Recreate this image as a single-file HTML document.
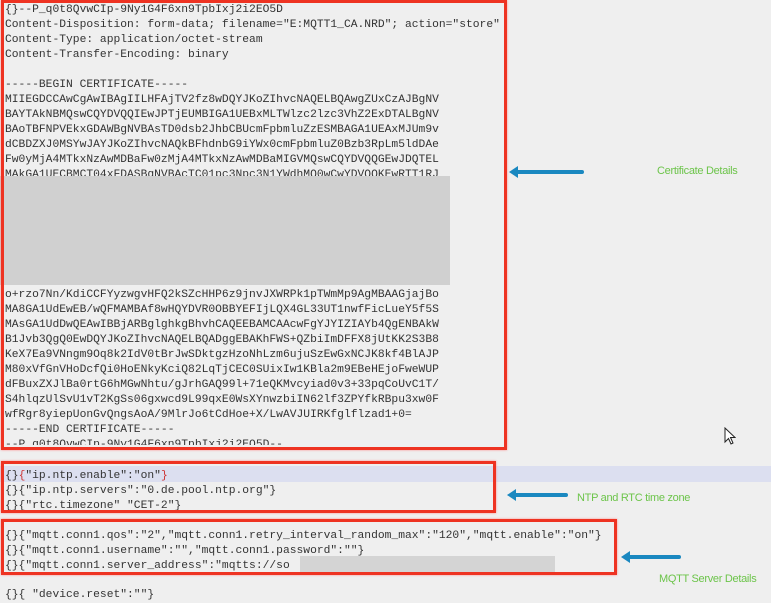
<!DOCTYPE html>
<html><head><style>
html,body{margin:0;padding:0;}
body{width:771px;height:602px;background:#efefef;position:relative;overflow:hidden;font-family:"Liberation Mono",monospace;}
.t{position:absolute;left:5px;font-size:11.3px;line-height:15px;color:#333;white-space:pre;}
.box{position:absolute;border:3px solid #ee3322;box-sizing:border-box;box-shadow:0 0 2px #f88;}
.lbl{position:absolute;font-family:"Liberation Sans",sans-serif;font-size:11px;color:#6cc44a;white-space:nowrap;letter-spacing:-0.3px;}
.arr{position:absolute;height:4px;background:#1a88c0;border-radius:2px;}
.arr:before{content:"";position:absolute;left:-4px;top:-4px;border-right:9px solid #1a88c0;border-top:6px solid transparent;border-bottom:6px solid transparent;}
</style></head><body>
<div style="position:absolute;left:0;top:466px;width:771px;height:16px;background:#dcdff0"></div>
<div class="t" style="top:3px">{}--P_q0t8QvwCIp-9Ny1G4F6xn9TpbIxj2i2EO5D
Content-Disposition: form-data; filename="E:MQTT1_CA.NRD"; action="store"
Content-Type: application/octet-stream
Content-Transfer-Encoding: binary

-----BEGIN CERTIFICATE-----
MIIEGDCCAwCgAwIBAgIILHFAjTV2fz8wDQYJKoZIhvcNAQELBQAwgZUxCzAJBgNV
BAYTAkNBMQswCQYDVQQIEwJPTjEUMBIGA1UEBxMLTWlzc2lzc3VhZ2ExDTALBgNV
BAoTBFNPVEkxGDAWBgNVBAsTD0dsb2JhbCBUcmFpbmluZzESMBAGA1UEAxMJUm9v
dCBDZXJ0MSYwJAYJKoZIhvcNAQkBFhdnbG9iYWx0cmFpbmluZ0Bzb3RpLm5ldDAe
Fw0yMjA4MTkxNzAwMDBaFw0zMjA4MTkxNzAwMDBaMIGVMQswCQYDVQQGEwJDQTEL
MAkGA1UECBMCT04xFDASBgNVBAcTC01pc3Npc3N1YWdhMQ0wCwYDVQQKEwRTT1RJ
x
x
x
x
x
x
x
o+rzo7Nn/KdiCCFYyzwgvHFQ2kSZcHHP6z9jnvJXWRPk1pTWmMp9AgMBAAGjajBo
MA8GA1UdEwEB/wQFMAMBAf8wHQYDVR0OBBYEFIjLQX4GL33UT1nwfFicLueY5f5S
MAsGA1UdDwQEAwIBBjARBglghkgBhvhCAQEEBAMCAAcwFgYJYIZIAYb4QgENBAkW
B1Jvb3QgQ0EwDQYJKoZIhvcNAQELBQADggEBAKhFWS+QZbiImDFFX8jUtKK2S3B8
KeX7Ea9VNngm9Oq8k2IdV0tBrJwSDktgzHzoNhLzm6ujuSzEwGxNCJK8kf4BlAJP
M80xVfGnVHoDcfQi0HoENkyKciQ82LqTjCEC0SUixIw1KBla2m9EBeHEjoFweWUP
dFBuxZXJlBa0rtG6hMGwNhtu/gJrhGAQ99l+71eQKMvcyiad0v3+33pqCoUvC1T/
S4hlqzUlSvU1vT2KgSs06gxwcd9L99qxE0WsXYnwzbiIN62lf3ZPYfkRBpu3xw0F
wfRgr8yiepUonGvQngsAoA/9MlrJo6tCdHoe+X/LwAVJUIRKfglflzad1+0=
-----END CERTIFICATE-----
--P_q0t8QvwCIp-9Ny1G4F6xn9TpbIxj2i2EO5D--</div>
<div style="position:absolute;left:0;top:176px;width:450px;height:109px;background:#d0d0d0"></div>
<div style="position:absolute;left:0;top:445px;width:508px;height:14px;background:#efefef"></div>
<div class="t" style="top:469px">{}<span style="color:#c33">{</span>"ip.ntp.enable":"on"<span style="color:#c33">}</span>
{}{"ip.ntp.servers":"0.de.pool.ntp.org"}
{}{"rtc.timezone" "CET-2"}</div>
<div class="t" style="top:529px">{}{"mqtt.conn1.qos":"2","mqtt.conn1.retry_interval_random_max":"120","mqtt.enable":"on"}
{}{"mqtt.conn1.username":"","mqtt.conn1.password":""}
{}{"mqtt.conn1.server_address":"mqtts://so</div>
<div style="position:absolute;left:300px;top:556px;width:255px;height:17px;background:#d4d4d4"></div>
<div class="t" style="top:588px">{}{ "device.reset":""}</div>
<div class="box" style="left:1px;top:0;width:506px;height:450px"></div>
<div class="box" style="left:1px;top:461px;width:495px;height:52px"></div>
<div class="box" style="left:1px;top:519px;width:616px;height:56px"></div>
<div class="arr" style="left:513px;top:170px;width:71px"></div>
<div class="arr" style="left:511px;top:493px;width:57px"></div>
<div class="arr" style="left:625px;top:555px;width:56px"></div>
<div class="lbl" style="left:657px;top:165px">Certificate Details</div>
<div class="lbl" style="left:577px;top:492px">NTP and RTC time zone</div>
<div class="lbl" style="left:659px;top:573px">MQTT Server Details</div>
<svg style="position:absolute;left:724px;top:427px" width="12" height="18"><path d="M1 1 L1 15 L4.5 11.5 L7 17 L9 16 L6.5 10.5 L11 10.5 Z" fill="#fff" stroke="#222" stroke-width="1"/></svg>
</body></html>
